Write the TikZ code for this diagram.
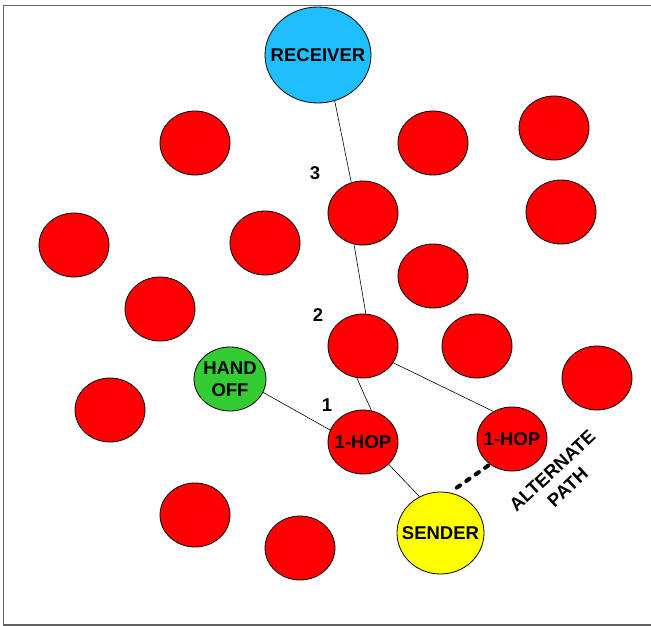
\documentclass[tikz,border=0pt]{standalone}
\usepackage{fontspec}
\setmainfont{Liberation Sans}
\usetikzlibrary{shapes.geometric}
\definecolor{rednode}{RGB}{255,0,0}
\definecolor{recvblue}{RGB}{30,190,255}
\definecolor{handgreen}{RGB}{51,204,51}
\definecolor{sendyellow}{RGB}{255,255,0}
\tikzset{
  lbl/.style={font=\fontsize{18.5}{22.5}\selectfont\bfseries},
  bub/.style={ellipse, draw=black, line width=0.8pt, inner sep=0pt, minimum width=70pt, minimum height=64pt},
  redbub/.style={bub, fill=rednode},
  txt/.style={label={[lbl, align=center, inner sep=0pt]center:#1}},
  link/.style={draw=black, line width=0.6pt},
  altlink/.style={draw=black, line width=4pt, line cap=round, dash pattern=on 4pt off 7.5pt, shorten <=2pt, shorten >=2pt},
}
\begin{document}
\begin{tikzpicture}[x=1pt,y=-1pt]
\useasboundingbox (0,0) rectangle (651,626);
% frame (open on the right)
\draw[gray!75!black, line width=1.6pt] (651,5.5) -- (3.5,5.5) -- (3.5,625) -- (651,625);

\node[bub, fill=recvblue, minimum width=106pt, minimum height=96pt, txt={RECEIVER}] (rec) at (318,55) {};
\node[redbub] (r1) at (195,143) {};
\node[redbub] (r2) at (433,143) {};
\node[redbub] (r3) at (554,128) {};
\node[redbub] (r4) at (74,245) {};
\node[redbub] (r5) at (265,243) {};
\node[redbub] (r6) at (363,213) {};
\node[redbub] (r7) at (561,212) {};
\node[redbub] (r8) at (160,309) {};
\node[redbub] (r9) at (433,276) {};
\node[redbub] (r10) at (363,346) {};
\node[redbub] (r11) at (477,346) {};
\node[redbub] (r12) at (597,378) {};
\node[redbub] (r13) at (110,410) {};
\node[redbub] (r14) at (195,515) {};
\node[redbub] (r15) at (300,548) {};
\node[redbub, txt={1-HOP}] (hop1) at (363,442) {};
\node[redbub, txt={1-HOP}] (hop2) at (512,439) {};
\node[bub, fill=handgreen, minimum width=72pt, txt={HAND\\OFF}] (hand) at (230,379) {};
\node[bub, fill=sendyellow, minimum width=87pt, minimum height=82pt, txt={SENDER}] (send) at (440.5,533) {};

\path[link] (rec.-70.5) -- (r6.111);
\path[link] (r6.-106) -- (r10.85);
\path[link] (r10.-101) -- (hop1.75);
\path[link] (r10.-29.5) -- (hop2.124);
\path[link] (hand.-22) -- (hop1.160);
\path[link] (hop1.-41.5) -- (send.120);
\path[altlink] (hop2.-131) -- (send.77.5);

\node[lbl] (n3) at (315,173) {3};
\node[lbl] (n2) at (318,315) {2};
\node[lbl] (n1) at (327,405) {1};
\node[lbl, rotate=43, align=center] (alt) at (560,479) {ALTERNATE\\PATH};
\end{tikzpicture}
\end{document}
